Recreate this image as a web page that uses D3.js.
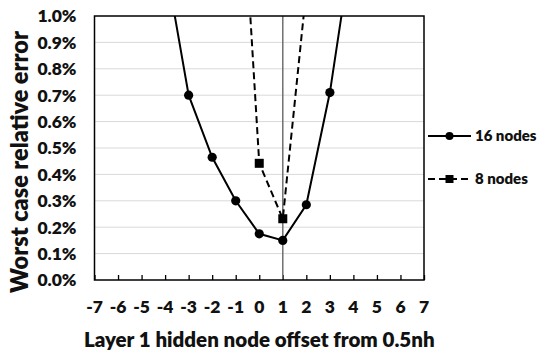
<!DOCTYPE html>
<html>
<head>
<meta charset="utf-8">
<script src="https://cdn.jsdelivr.net/npm/d3@7"></script>
<style>
  body { margin: 0; background: #fff; }
  svg { display: block; font-family: Lato, "Open Sans", sans-serif; font-weight: 800; }
</style>
</head>
<body>
<figure id="chart" style="margin:0"></figure>
<script>
// data (offset in nodes, error as a fraction)
const offsets16 = [-4, -3, -2, -1, 0, 1, 2, 3, 4];
const errors16 = [0.0121, 0.0070, 0.00465, 0.0030, 0.00175, 0.0015, 0.00285, 0.0071, 0.0130];
const offsets8 = [-1, 0, 1, 2];
const errors8 = [0.0191, 0.00442, 0.00232, 0.0110];
const xTicks = [-7, -6, -5, -4, -3, -2, -1, 0, 1, 2, 3, 4, 5, 6, 7];
const yTicks = [0, 0.001, 0.002, 0.003, 0.004, 0.005, 0.006, 0.007, 0.008, 0.009, 0.010];
const seriesNames = ["16 nodes", "8 nodes"];
const refOffset = 1;

const width = 541, height = 354;
const margin = { top: 16, right: 117, bottom: 74, left: 94.5 };
const plotW = width - margin.left - margin.right;
const plotH = height - margin.top - margin.bottom;

const svg = d3.select("#chart").append("svg")
  .attr("width", width)
  .attr("height", height);

const g = svg.append("g")
  .attr("transform", "translate(" + margin.left + "," + margin.top + ")");

const x = d3.scaleLinear().domain([-7, 7]).range([0, plotW]);
const y = d3.scaleLinear().domain([0, 0.01]).range([plotH, 0]);

svg.append("defs").append("clipPath").attr("id", "plotclip")
  .append("rect").attr("width", plotW).attr("height", plotH);

// horizontal gridlines
g.append("g")
  .selectAll("line")
  .data(yTicks.slice(1, -1))
  .enter().append("line")
  .attr("x1", 0).attr("x2", plotW)
  .attr("y1", d => y(d)).attr("y2", d => y(d))
  .attr("stroke", "#d9d9d9")
  .attr("stroke-width", 1);

// y tick labels
g.append("g")
  .selectAll("text")
  .data(yTicks)
  .enter().append("text")
  .attr("x", -18)
  .attr("y", d => y(d))
  .attr("dy", "0.36em")
  .attr("text-anchor", "end")
  .style("font-size", "17.5px")
  .attr("fill", "#111")
  .text(d => d3.format(".1%")(d));

// x axis with inward ticks
const xAxis = d3.axisBottom(x).tickValues(xTicks).tickSize(-5).tickPadding(0).tickFormat("");
const xg = g.append("g").attr("transform", "translate(0," + plotH + ")").call(xAxis);
xg.select(".domain").remove();
xg.selectAll(".tick line").attr("stroke", "#000").attr("stroke-width", 1.3);

g.append("g")
  .selectAll("text")
  .data(xTicks)
  .enter().append("text")
  .attr("x", d => x(d))
  .attr("y", plotH + 27)
  .attr("dy", "0.36em")
  .attr("text-anchor", "middle")
  .style("font-size", "17.5px")
  .attr("fill", "#111")
  .text(d => d);

// reference vertical line
g.append("line")
  .attr("x1", x(refOffset)).attr("x2", x(refOffset))
  .attr("y1", 0).attr("y2", plotH)
  .attr("stroke", "#6f6f6f")
  .attr("stroke-width", 1.5);

// series
const plot = g.append("g").attr("clip-path", "url(#plotclip)");
const line = d3.line().x(d => x(d[0])).y(d => y(d[1]));
const data16 = offsets16.map((o, i) => [o, errors16[i]]);
const data8 = offsets8.map((o, i) => [o, errors8[i]]);

plot.append("path").datum(data16)
  .attr("d", line)
  .attr("fill", "none").attr("stroke", "#000").attr("stroke-width", 2);

plot.append("path").datum(data8)
  .attr("d", line)
  .attr("fill", "none").attr("stroke", "#000").attr("stroke-width", 2)
  .attr("stroke-dasharray", "7,4");

plot.selectAll(".dot16")
  .data(data16)
  .enter().append("circle")
  .attr("cx", d => x(d[0])).attr("cy", d => y(d[1]))
  .attr("r", 4.6).attr("fill", "#000");

plot.selectAll(".sq8")
  .data(data8)
  .enter().append("rect")
  .attr("x", d => x(d[0]) - 4.5).attr("y", d => y(d[1]) - 4.5)
  .attr("width", 9).attr("height", 9).attr("fill", "#000");

// plot border
g.append("rect")
  .attr("width", plotW).attr("height", plotH)
  .attr("fill", "none").attr("stroke", "#000").attr("stroke-width", 1.5);

// axis titles
svg.append("text")
  .attr("x", margin.left + plotW / 2)
  .attr("y", 347)
  .attr("text-anchor", "middle")
  .style("font-size", "20.5px")
  .attr("fill", "#111")
  .text("Layer 1 hidden node offset from 0.5nh");

svg.append("text")
  .attr("transform", "translate(28,162) rotate(-90)")
  .attr("text-anchor", "middle")
  .style("font-size", "23.5px")
  .attr("fill", "#111")
  .text("Worst case relative error");

// legend
const legend = svg.append("g").attr("transform", "translate(428,136)");
const rows = legend.selectAll("g")
  .data(seriesNames)
  .enter().append("g")
  .attr("transform", (d, i) => "translate(0," + i * 43 + ")");

rows.append("line")
  .attr("x1", 0).attr("x2", 43)
  .attr("stroke", "#000").attr("stroke-width", 2)
  .attr("stroke-dasharray", (d, i) => i ? "7,4" : null);

rows.filter((d, i) => i === 0).append("circle")
  .attr("cx", 21.5).attr("r", 4).attr("fill", "#000");
rows.filter((d, i) => i === 1).append("rect")
  .attr("x", 17.5).attr("y", -4).attr("width", 8).attr("height", 8).attr("fill", "#000");

rows.append("text")
  .attr("x", 47)
  .attr("dy", "0.36em")
  .style("font-size", "15px")
  .attr("fill", "#111")
  .text(d => d);
</script>
</body>
</html>
